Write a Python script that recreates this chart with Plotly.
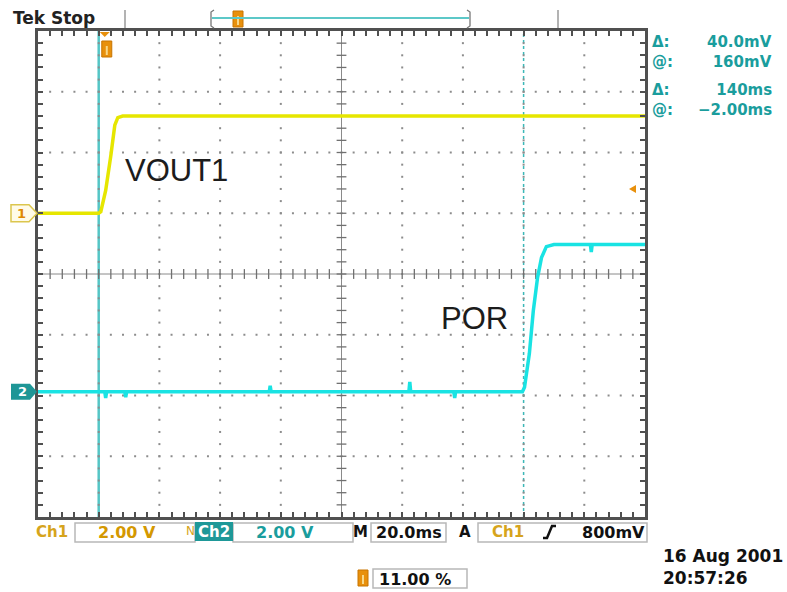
import plotly.graph_objects as go

ch1_time_ms = [-22.0, -2.0, -1.3, 0.3, 2.0, 3.3, 4.3, 5.9, 60.0, 120.0, 178.0]
ch1_volts = [0.0, 0.0, 0.05, 0.75, 1.9, 2.9, 3.15, 3.2, 3.2, 3.2, 3.2]

ch2_time_ms = [-22.0, 0.0, 0.3, 0.6, 6.6, 6.9, 7.2, 54.2, 54.5, 54.8, 100.2, 100.5, 100.8,
               115.0, 115.3, 115.6, 137.6, 138.3, 139.9, 141.2, 142.6, 143.9, 145.5, 148.0,
               160.0, 160.3, 160.6, 178.0]
ch2_volts = [0.0, 0.0, -0.2, 0.0, 0.0, -0.18, 0.0, 0.0, 0.2, 0.0, 0.0, 0.33, 0.0,
             0.0, -0.2, 0.0, 0.0, 0.15, 1.26, 2.67, 3.76, 4.42, 4.78, 4.85,
             4.85, 4.6, 4.85, 4.85]

cursor_times_ms = [-2.0, 138.0]
trigger_level_v = 0.8

# scope settings
time_per_div = 20.0
volts_per_div = 2.0
ch1_offset_div = 1.0
ch2_offset_div = -1.94
trigger_pos = 0.11
h_divs, v_divs = 10, 8

readout_labels = ["Δ:", "@:", "Δ:", "@:"]
readout_values = ["40.0mV", "160mV", "140ms", "−2.00ms"]

# ---------------- derived scales ----------------
t_left = -trigger_pos * h_divs * time_per_div
t_right = t_left + h_divs * time_per_div
t_center = t_left + h_divs / 2 * time_per_div
ch1_range = [(-v_divs / 2 - ch1_offset_div) * volts_per_div, (v_divs / 2 - ch1_offset_div) * volts_per_div]
ch2_range = [(-v_divs / 2 - ch2_offset_div) * volts_per_div, (v_divs / 2 - ch2_offset_div) * volts_per_div]


def d2t(d):
    return t_left + d * time_per_div


# pixel helpers for decorations around the screen
PL, PR, PT, PB = 38, 645, 31, 517
PMID = (PT + PB) / 2


def fx(x):
    return (x - PL) / (PR - PL)


def fy(y):
    return (PB - y) / (PB - PT)


def path(points, close=True):
    s = "M " + " L ".join(f"{fx(x):.5f},{fy(y):.5f}" for x, y in points)
    return s + (" Z" if close else "")


fig = go.Figure()

# graticule dots
dots_x, dots_y = [], []
for k in range(1, v_divs):
    yk = -v_divs / 2 + k
    if yk == 0:
        continue
    for j in range(1, h_divs * 5):
        dots_x.append(d2t(j / 5))
        dots_y.append(yk)
for d in range(1, h_divs):
    if d == h_divs // 2:
        continue
    for j in range(1, v_divs * 5):
        dots_x.append(d2t(d))
        dots_y.append(-v_divs / 2 + j / 5)
fig.add_trace(go.Scatter(x=dots_x, y=dots_y, mode="markers",
                         marker=dict(symbol="square", size=2, color="#8c8c8c", line=dict(width=0)),
                         hoverinfo="skip", showlegend=False))

# center cross ticks
hx = [d2t(j / 5) for j in range(1, h_divs * 5)]
fig.add_trace(go.Scatter(x=hx, y=[0] * len(hx), mode="markers",
                         marker=dict(symbol="line-ns", size=7, color="#707070", line=dict(width=1.3, color="#707070")),
                         hoverinfo="skip", showlegend=False))
vy = [-v_divs / 2 + j / 5 for j in range(1, v_divs * 5)]
fig.add_trace(go.Scatter(x=[t_center] * len(vy), y=vy, mode="markers",
                         marker=dict(symbol="line-ew", size=7, color="#707070", line=dict(width=1.3, color="#707070")),
                         hoverinfo="skip", showlegend=False))

# waveforms
fig.add_trace(go.Scatter(x=ch1_time_ms, y=ch1_volts, yaxis="y2", mode="lines",
                         line=dict(color="#e6e600", width=3.5), hoverinfo="skip", showlegend=False))
fig.add_trace(go.Scatter(x=ch2_time_ms, y=ch2_volts, yaxis="y3", mode="lines",
                         line=dict(color="#19e3e3", width=3.5), hoverinfo="skip", showlegend=False))

shapes = []
# center lines
shapes.append(dict(type="line", xref="x", yref="y", x0=t_left, x1=t_right, y0=0, y1=0,
                   line=dict(color="#8a8a8a", width=1), layer="below"))
shapes.append(dict(type="line", xref="x", yref="y", x0=t_center, x1=t_center, y0=-v_divs / 2, y1=v_divs / 2,
                   line=dict(color="#8a8a8a", width=1), layer="below"))
# cursors
shapes.append(dict(type="line", xref="x", yref="paper", x0=cursor_times_ms[0], x1=cursor_times_ms[0], y0=0, y1=1,
                   line=dict(color="#55c6c6", width=2.5), layer="below"))
shapes.append(dict(type="line", xref="x", yref="paper", x0=cursor_times_ms[1], x1=cursor_times_ms[1], y0=0, y1=1,
                   line=dict(color="#3cb8b8", width=1.5, dash="3px,3px"), layer="below"))

ORANGE = "#e8900c"
GOLD = "#d6a41c"
TEAL = "#1a9d9d"

# trigger position marker (top of screen)
tx = PL + trigger_pos * (PR - PL)
shapes.append(dict(type="path", xref="paper", yref="paper",
                   path=path([(tx - 5, 32), (tx + 5, 32), (tx, 37)]), fillcolor=ORANGE, line=dict(width=0)))


def t_icon(cx, y0, y1):
    return [dict(type="rect", xref="paper", yref="paper", x0=fx(cx - 5), x1=fx(cx + 5), y0=fy(y1), y1=fy(y0),
                 fillcolor=ORANGE, line=dict(color="#c87400", width=1)),
            dict(type="rect", xref="paper", yref="paper", x0=fx(cx - 1), x1=fx(cx + 1), y0=fy(y1 - 2), y1=fy(y0 + 5),
                 fillcolor="#f8d88a", line=dict(width=0))]


shapes += t_icon(tx + 2, 41, 57)
shapes += t_icon(238, 11, 27)
shapes += t_icon(363, 570, 586)

# trigger level marker on right
div_px = (PB - PT) / v_divs
tl_y = PMID - (trigger_level_v / volts_per_div + ch1_offset_div) * div_px
shapes.append(dict(type="path", xref="paper", yref="paper",
                   path=path([(629, tl_y), (636, tl_y - 4), (636, tl_y + 4)]), fillcolor=ORANGE, line=dict(width=0)))

# channel ground markers
g1 = PMID - ch1_offset_div * div_px
g2 = PMID - ch2_offset_div * div_px
shapes.append(dict(type="path", xref="paper", yref="paper",
                   path=path([(11, g1 - 8.5), (29, g1 - 8.5), (37, g1), (29, g1 + 8.5), (11, g1 + 8.5)]),
                   fillcolor="#fffbe8", line=dict(color="#dcc64e", width=1.5)))
shapes.append(dict(type="path", xref="paper", yref="paper",
                   path=path([(11, g2 - 8), (30, g2 - 8), (37, g2), (30, g2 + 8), (11, g2 + 8)]),
                   fillcolor="#1e9696", line=dict(width=0)))

# top status bar pieces
for xs in (125, 558):
    shapes.append(dict(type="line", xref="paper", yref="paper", x0=fx(xs), x1=fx(xs), y0=fy(28), y1=fy(10),
                       line=dict(color="#9a9a9a", width=1.5)))
shapes.append(dict(type="path", xref="paper", yref="paper",
                   path=path([(214, 10), (211, 12), (211, 26), (214, 28)], close=False),
                   line=dict(color="#777", width=1.3)))
shapes.append(dict(type="path", xref="paper", yref="paper",
                   path=path([(467, 10), (470, 12), (470, 26), (467, 28)], close=False),
                   line=dict(color="#777", width=1.3)))
shapes.append(dict(type="line", xref="paper", yref="paper", x0=fx(212), x1=fx(469), y0=fy(18), y1=fy(18),
                   line=dict(color="#5cc8c8", width=2)))

# bottom readout boxes
BOX = "#b8b8b8"
for x0, x1, y0, y1 in [(75, 195, 523, 542), (233, 353, 523, 542), (371, 446, 523, 542),
                       (478, 647, 523, 542), (373, 467, 569, 588)]:
    shapes.append(dict(type="rect", xref="paper", yref="paper", x0=fx(x0), x1=fx(x1), y0=fy(y1), y1=fy(y0),
                       line=dict(color=BOX, width=1.5), fillcolor="rgba(0,0,0,0)"))
shapes.append(dict(type="rect", xref="paper", yref="paper", x0=fx(195), x1=fx(233), y0=fy(541), y1=fy(522),
                   fillcolor="#1e9898", line=dict(width=0)))
# rising slope icon
shapes.append(dict(type="path", xref="paper", yref="paper",
                   path=path([(543, 538), (547, 538), (552, 526), (556, 526)], close=False),
                   line=dict(color="#111", width=2.5)))

ann = []


def txt(x, y, s, size=16, color="#111", anchor="left", family="DejaVu Sans", bold=True, align="left"):
    ann.append(dict(x=fx(x), y=fy(y), xref="paper", yref="paper", text=(f"<b>{s}</b>" if bold else s),
                    showarrow=False, xanchor=anchor, yanchor="middle", align=align, borderpad=0,
                    font=dict(size=size, color=color, family=family)))


txt(12, 18, "Tek", size=17, color="#222")
txt(50, 18, "Stop", size=17, color="#222")

# cursor readouts: two blocks of two lines each
for i, yy in ((0, 52), (2, 100)):
    txt(651, yy, readout_labels[i] + "<br>" + readout_labels[i + 1], size=15, color=TEAL)
    txt(773, yy, readout_values[i] + "<br>" + readout_values[i + 1], size=15, color=TEAL,
        anchor="right", align="right")

txt(124, 170, "VOUT1", size=31, color="#1c1c1c", family="Liberation Sans", bold=False)
txt(440, 318, "POR", size=31, color="#1c1c1c", family="Liberation Sans", bold=False)

txt(21, g1, "1", size=13, color="#e08a00", anchor="center")
txt(22, g2, "2", size=13, color="white", anchor="center")

txt(52, 532, "Ch1", size=15, color=GOLD, anchor="center")
txt(127, 532, "2.00 V", size=16, color="#d49800", anchor="center")
txt(190, 531, "N", size=12, color=GOLD, anchor="center", bold=False)
txt(214, 532, "Ch2", size=15, color="white", anchor="center")
txt(285, 532, "2.00 V", size=16, color=TEAL, anchor="center")
txt(360, 532, "M", size=15, color="#111", anchor="center")
txt(409, 532, "20.0ms", size=16, color="#111", anchor="center")
txt(465, 532, "A", size=15, color="#111", anchor="center")
txt(508, 532, "Ch1", size=15, color=GOLD, anchor="center")
txt(646, 532, "800mV", size=16, color="#111", anchor="right")
txt(415, 579, "11.00 %", size=16, color="#111", anchor="center")
txt(662, 567, "16 Aug 2001<br>20:57:26", size=17, color="#111")

fig.update_layout(
    width=787, height=592,
    margin=dict(l=PL, r=787 - PR, t=PT, b=592 - PB, pad=0),
    paper_bgcolor="white", plot_bgcolor="white",
    showlegend=False, hovermode=False,
    shapes=shapes, annotations=ann,
    xaxis=dict(range=[t_left, t_right], showgrid=False, zeroline=False, showticklabels=False,
               showline=True, linecolor="#505050", linewidth=3, mirror="ticks",
               ticks="inside", tick0=t_left, dtick=time_per_div / 5, ticklen=5, tickwidth=1.5, tickcolor="#505050"),
    yaxis=dict(range=[-v_divs / 2, v_divs / 2], showgrid=False, zeroline=False, showticklabels=False,
               showline=True, linecolor="#505050", linewidth=3, mirror="ticks",
               ticks="inside", tick0=-v_divs / 2, dtick=0.2, ticklen=5, tickwidth=1.5, tickcolor="#505050"),
    yaxis2=dict(range=ch1_range, overlaying="y", visible=False),
    yaxis3=dict(range=ch2_range, overlaying="y", visible=False),
)

fig.write_html("out.html", config={"displayModeBar": False},
               post_script="document.body.style.margin='0';document.body.style.overflow='hidden';")
